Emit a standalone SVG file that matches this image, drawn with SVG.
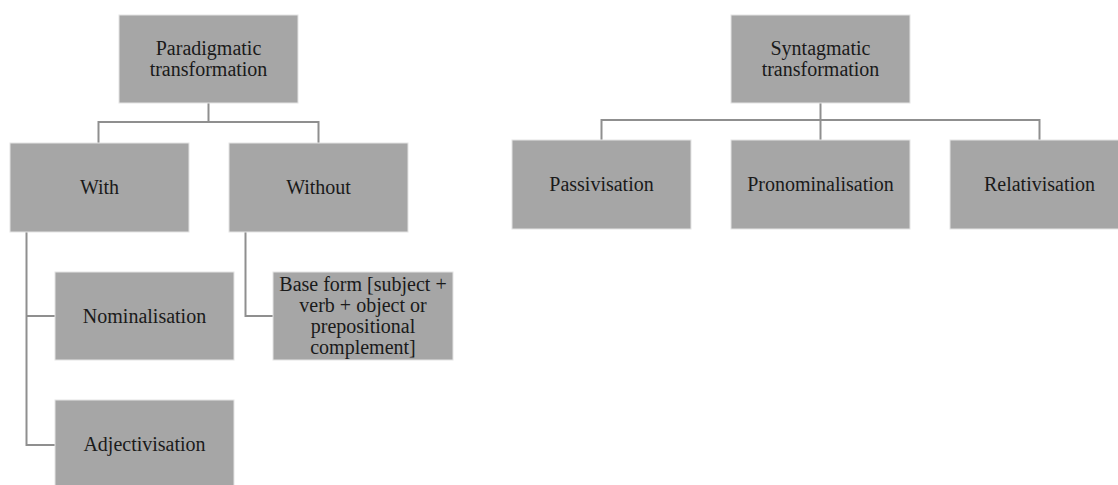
<svg xmlns="http://www.w3.org/2000/svg" width="1118" height="485" viewBox="0 0 1118 485">
<style>
.box{fill:#a6a6a6;stroke:#e4e4e4;stroke-width:1}
.lbl{font-family:"Liberation Serif","Times New Roman",serif;font-size:20px;fill:#1a1a1a;text-anchor:middle}
.con{fill:none;stroke:#8f8f8f;stroke-width:2}
</style>
<rect width="1118" height="485" fill="#ffffff"/>
<g id="connectors">
<path class="con" d="M208.5 103 V122 M98.5 143 V122 H318.5 V143"/>
<path class="con" d="M26.5 232 V445 H55 M26.5 316 H55"/>
<path class="con" d="M245.5 232 V316 H273"/>
<path class="con" d="M820.5 103 V140 M601.5 140 V120 H1039.5 V140"/>
</g>
<g id="paradigmatic">
<rect class="box" x="119" y="15" width="179" height="88"/>
<text class="lbl" x="208.5" y="55">Paradigmatic</text>
<text class="lbl" x="208.5" y="76">transformation</text>
</g>
<g id="with">
<rect class="box" x="10" y="143" width="179" height="89"/>
<text class="lbl" x="99.5" y="194">With</text>
</g>
<g id="without">
<rect class="box" x="229" y="143" width="179" height="89"/>
<text class="lbl" x="318.5" y="194">Without</text>
</g>
<g id="nominalisation">
<rect class="box" x="55" y="272" width="179" height="88"/>
<text class="lbl" x="144.5" y="323">Nominalisation</text>
</g>
<g id="adjectivisation">
<rect class="box" x="55" y="400" width="179" height="89"/>
<text class="lbl" x="144.5" y="451">Adjectivisation</text>
</g>
<g id="baseform">
<rect class="box" x="273" y="272" width="180" height="88"/>
<text class="lbl" x="363" y="291">Base form [subject +</text>
<text class="lbl" x="363" y="312">verb + object or</text>
<text class="lbl" x="363" y="333">prepositional</text>
<text class="lbl" x="363" y="354">complement]</text>
</g>
<g id="syntagmatic">
<rect class="box" x="731" y="15" width="179" height="88"/>
<text class="lbl" x="820.5" y="55">Syntagmatic</text>
<text class="lbl" x="820.5" y="76">transformation</text>
</g>
<g id="passivisation">
<rect class="box" x="512" y="140" width="179" height="89"/>
<text class="lbl" x="601.5" y="191">Passivisation</text>
</g>
<g id="pronominalisation">
<rect class="box" x="731" y="140" width="179" height="89"/>
<text class="lbl" x="820.5" y="191">Pronominalisation</text>
</g>
<g id="relativisation">
<rect class="box" x="950" y="140" width="179" height="89"/>
<text class="lbl" x="1039.5" y="191">Relativisation</text>
</g>
</svg>
